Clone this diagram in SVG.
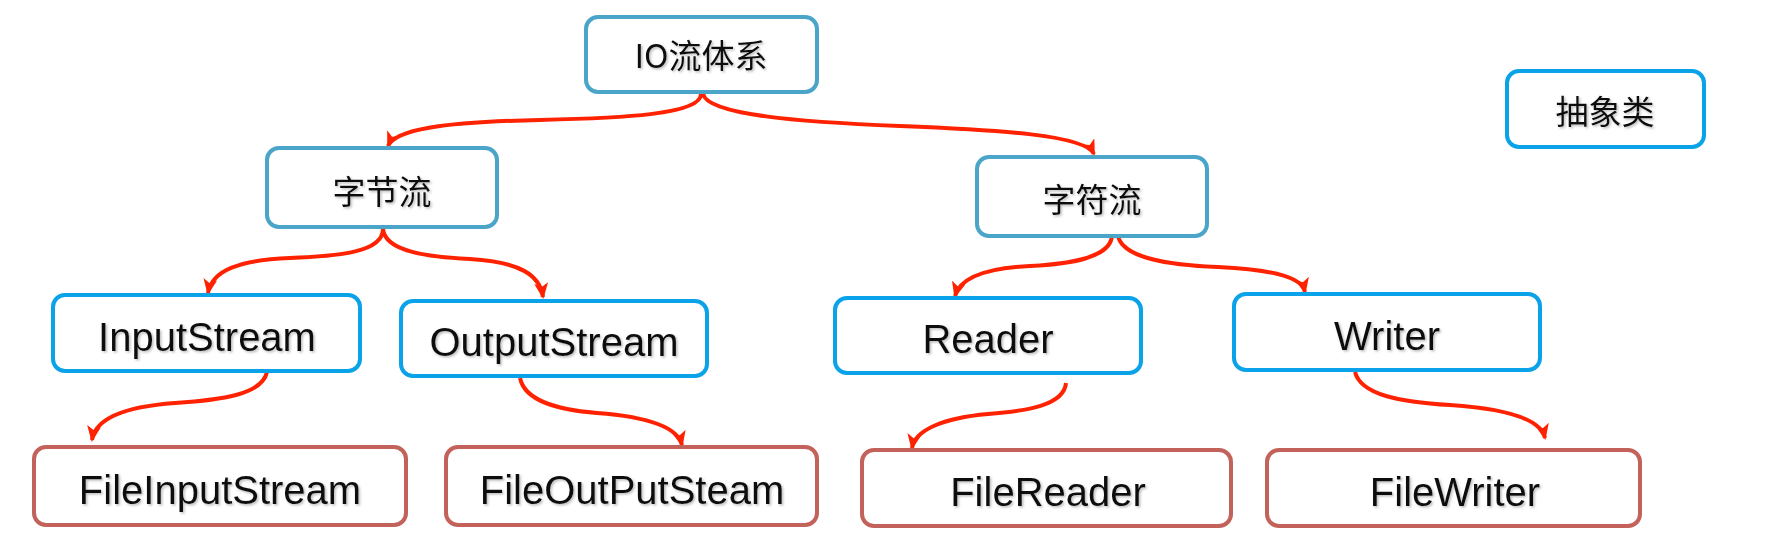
<svg xmlns="http://www.w3.org/2000/svg" width="1767" height="545" viewBox="0 0 1767 545">
<style>
.box{fill:#fff;stroke-width:4}
.t1{stroke:#4BA5C9}
.t2{stroke:#0AA2E8}
.t3{stroke:#C2625B}
.lat{font-family:"Liberation Sans",Arial,sans-serif;font-size:40px;fill:#0a0a0a;text-anchor:middle;filter:url(#sh)}
.cjk{font-family:"Noto Sans CJK SC","Noto Sans",sans-serif;font-size:33px;fill:#0a0a0a;text-anchor:middle;filter:url(#sh)}
.edge{fill:none;stroke:#FF2200;stroke-width:4;marker-end:url(#arr)}
</style>
<defs>
<marker id="arr" markerUnits="userSpaceOnUse" viewBox="0 0 16 14" markerWidth="16" markerHeight="14" refX="14" refY="7" orient="auto">
<path d="M0,0 L16,7 L0,14 L4,7 z" fill="#FF2200"/>
</marker>
<filter id="sh" x="-10%" y="-20%" width="120%" height="140%">
<feDropShadow dx="1.5" dy="1.5" stdDeviation="1" flood-color="#777" flood-opacity="0.5"/>
</filter>
</defs>
<rect width="1767" height="545" fill="#fff"/>
<g id="connectors">
<path class="edge" d="M701,94 C701,115 620,118 540,120 C440,122 395,130 388,146"/>
<path class="edge" d="M703,94 C708,115 800,122 900,126 C1000,130 1085,135 1094,154"/>
<path class="edge" d="M383,229 C383,252 340,256 290,258 C240,260 212,270 208,293"/>
<path class="edge" d="M383,229 C385,252 430,257 470,259 C520,262 540,275 543,297"/>
<path class="edge" d="M1112,236 C1110,258 1070,264 1030,266 C985,268 960,278 955,296"/>
<path class="edge" d="M1118,236 C1123,258 1168,265 1218,267 C1278,270 1302,278 1305,292"/>
<path class="edge" d="M267,372 C262,395 220,400 175,403 C120,407 95,420 92,440"/>
<path class="edge" d="M520,378 C525,402 560,410 597,413 C650,417 678,428 682,445"/>
<path class="edge" d="M1066,383 C1064,405 1028,411 988,414 C943,418 915,430 912,448"/>
<path class="edge" d="M1355,372 C1361,395 1400,402 1450,405 C1510,409 1541,420 1545,438"/>
</g>
<g id="io"><rect class="box t1" x="586" y="17" width="231" height="75" rx="12"/><text class="cjk" x="701" y="68">IO流体系</text></g>
<g id="abstract"><rect class="box t2" x="1507" y="71" width="197" height="76" rx="12"/><text class="cjk" x="1605" y="124">抽象类</text></g>
<g id="byte"><rect class="box t1" x="267" y="148" width="230" height="79" rx="12"/><text class="cjk" x="382" y="204">字节流</text></g>
<g id="char"><rect class="box t1" x="977" y="157" width="230" height="79" rx="12"/><text class="cjk" x="1092" y="212">字符流</text></g>
<g id="inputstream"><rect class="box t2" x="53" y="295" width="307" height="76" rx="12"/><text class="lat" x="207" y="351">InputStream</text></g>
<g id="outputstream"><rect class="box t2" x="401" y="301" width="306" height="75" rx="12"/><text class="lat" x="554" y="356">OutputStream</text></g>
<g id="reader"><rect class="box t2" x="835" y="298" width="306" height="75" rx="12"/><text class="lat" x="988" y="353">Reader</text></g>
<g id="writer"><rect class="box t2" x="1234" y="294" width="306" height="76" rx="12"/><text class="lat" x="1387" y="350">Writer</text></g>
<g id="fileinputstream"><rect class="box t3" x="34" y="447" width="372" height="78" rx="12"/><text class="lat" x="220" y="504">FileInputStream</text></g>
<g id="fileoutputsteam"><rect class="box t3" x="446" y="447" width="371" height="78" rx="12"/><text class="lat" x="632" y="504">FileOutPutSteam</text></g>
<g id="filereader"><rect class="box t3" x="862" y="450" width="369" height="76" rx="12"/><text class="lat" x="1048" y="506">FileReader</text></g>
<g id="filewriter"><rect class="box t3" x="1267" y="450" width="373" height="76" rx="12"/><text class="lat" x="1455" y="506">FileWriter</text></g>
</svg>
